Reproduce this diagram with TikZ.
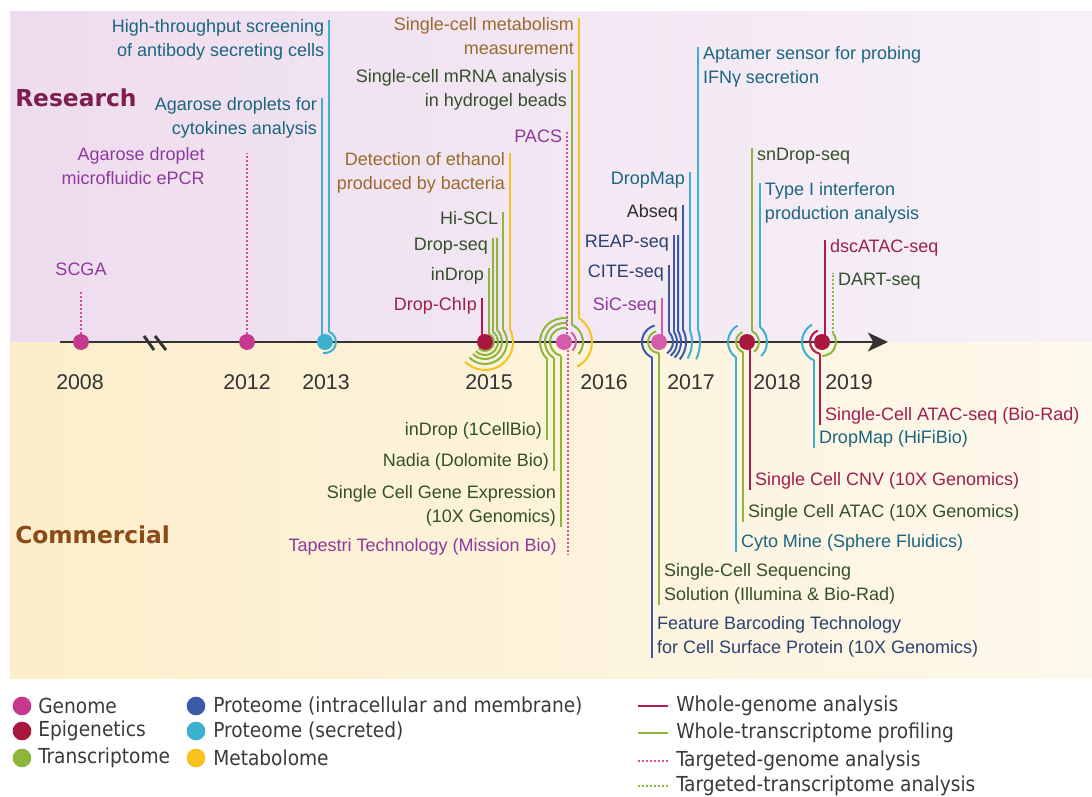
\documentclass[tikz,border=0pt]{standalone}
\usepackage{fontspec}
\setmainfont{Liberation Sans}
\newfontfamily\headfont{DejaVu Sans}
\newfontfamily\legfont{DejaVu Sans Condensed}
\usetikzlibrary{arrows.meta}
\tikzset{>=stealth}

\definecolor{respink}{HTML}{EEDCEE}
\definecolor{respale}{HTML}{F7F1F7}
\definecolor{comyel}{HTML}{FCEECA}
\definecolor{compale}{HTML}{FDF8EC}
\definecolor{axisgray}{HTML}{333333}
\definecolor{leggray}{HTML}{3A3A3A}
\definecolor{absgray}{HTML}{2E2E2E}
\definecolor{gnm}{HTML}{D94AA5}
\definecolor{gnmdot}{HTML}{C6388E}
\definecolor{gnmpale}{HTML}{D55CAA}
\definecolor{epi}{HTML}{B01B4C}
\definecolor{epidot}{HTML}{A9173F}
\definecolor{trs}{HTML}{8DB63C}
\definecolor{pint}{HTML}{3B5BA9}
\definecolor{psec}{HTML}{3CB1CD}
\definecolor{met}{HTML}{F6C21B}
\definecolor{tgnm}{HTML}{8E3A9C}
\definecolor{tepi}{HTML}{9E1F4F}
\definecolor{ttrs}{HTML}{34502A}
\definecolor{tpint}{HTML}{2B4170}
\definecolor{tpsec}{HTML}{1C6680}
\definecolor{tmet}{HTML}{9A6A2C}
\definecolor{research}{HTML}{7D1F4C}
\definecolor{commercial}{HTML}{8B4A17}

\newcommand\labfont{\fontsize{13.5}{18}\selectfont}
\newcommand\yearfont{\fontsize{16}{19}\selectfont}
\newcommand\headfnt{\headfont\bfseries\fontsize{17.5}{20}\selectfont}
\newcommand\legfnt{\legfont\fontsize{15.5}{18}\selectfont}

\tikzset{
  lbl/.style={inner sep=0pt,font=\labfont},
  rlab/.style={lbl,anchor=north east,xshift=-3pt,yshift=1pt,align=right},
  llab/.style={lbl,anchor=north west,xshift=3pt,yshift=1pt,align=left},
  rlabb/.style={lbl,anchor=south east,xshift=-3pt,align=right},
  llabb/.style={lbl,anchor=south west,xshift=3pt,align=left},
  ev/.style={line width=1.5pt},
  gnmline/.style={ev,draw=gnmpale},
  tgnmline/.style={ev,draw=gnm,dash pattern=on 1.5pt off 1.5pt},
  epiline/.style={ev,draw=epi},
  gline/.style={ev,draw=trs},
  tgline/.style={ev,draw=trs,dash pattern=on 1.5pt off 1.5pt},
  bline/.style={ev,draw=pint},
  cline/.style={ev,draw=psec},
  yline/.style={ev,draw=met},
  dot/.style={circle,inner sep=0pt,minimum size=12pt,fill=#1},
  year/.style={inner sep=0pt,font=\yearfont,text=axisgray},
  head/.style={inner sep=0pt,anchor=west,font=\headfnt},
  legdot/.style={circle,inner sep=0pt,minimum size=14pt,fill=#1},
  legtxt/.style={inner sep=0pt,anchor=west,font=\legfnt,text=leggray},
}

% line hooked round a dot: style, centre, radius, start, end, free end y, label style, name, text
\newcommand\evt[9]{%
  \draw[#1] (#2) ++(#4:#3) coordinate (hk) arc[start angle=#4,end angle=#5,radius=#3];
  \draw[#1] (hk) -- (hk |- 0,#6) node[#7] (#8) {#9};}
% straight line into a dot: style, centre, dx, free end y, label style, name, text
\newcommand\stem[7]{%
  \draw[#1] (#2) ++(#3,0) coordinate (hk) -- (hk |- 0,#4) node[#5] (#6) {#7};}

\begin{document}
\begin{tikzpicture}[x=0.75pt,y=0.75pt]
\useasboundingbox (0,-454) rectangle (1092,342);
\shade[left color=respink,right color=respale] (10,0) rectangle (1092,330);
\shade[left color=comyel,right color=compale] (10,-336) rectangle (1092,0);
\node[head,text=research] (research) at (15,244) {Research};
\node[head,text=commercial] (commercial) at (15,-193) {Commercial};

\foreach \x/\yr in {80/2008,247/2012,326/2013,489/2015,604/2016,691/2017,777/2018,849/2019}
  \node[year] (y\yr) at (\x,-40) {\yr};

% axis
\coordinate (ax0) at (60,0);
\coordinate (ax1) at (888,0);
\draw[line width=2.2pt,axisgray,-{Stealth[length=15pt,width=14pt,inset=4pt]}] (ax0) -- (ax1);
\draw[line width=2.2pt,axisgray] (144,6) -- (154,-8) (155,6) -- (166,-8);

\coordinate (c2008) at (81,0);
\coordinate (c2012) at (247,0);
\coordinate (c2013) at (325,0);
\coordinate (c2015) at (485,0);
\coordinate (c2016) at (564,0);
\coordinate (c2017) at (659,0);
\coordinate (c2018) at (747,0);
\coordinate (c2019) at (822,0);

% 2008 - 2013
\stem{tgnmline}{c2008}{0}{52}{lbl,anchor=south,yshift=10pt,text=tgnm}{scga}{SCGA}
\draw[tgnmline] (c2012) -- ++(0,189);
\node[lbl,align=right,anchor=north east,text=tgnm] (epcr) at (205,195) {Agarose droplet\\microfluidic ePCR};
\stem{cline}{c2013}{-3}{244}{rlab,text=tpsec}{cytok}{Agarose droplets for\\cytokines analysis}
\evt{cline}{c2013}{11}{68}{-100}{322}{rlab,text=tpsec}{antibody}{High-throughput screening\\of antibody secreting cells}

% 2015
\stem{epiline}{c2015}{-3}{44}{rlab,text=tepi}{dropchip}{Drop-ChIp}
\evt{gline}{c2015}{9}{64}{-135}{74}{rlab,text=ttrs}{indrop}{inDrop}
\evt{gline}{c2015}{13}{52}{-135}{104}{rlab,text=ttrs}{dropseq}{Drop-seq}
\draw[gline] (c2015) ++(45:17) coordinate (hk) arc[start angle=45,end angle=-135,radius=17] (hk) -- (hk |- 0,104);
\evt{gline}{c2015}{22}{35}{-135}{130}{rlab,text=ttrs}{hiscl}{Hi-SCL}
\evt{yline}{c2015}{28}{27}{-135}{189}{rlab,text=tmet}{ethanol}{Detection of ethanol\\produced by bacteria}

% 2016
\stem{tgnmline}{c2016}{3}{212}{rlab,text=tgnm}{pacs}{PACS}
\evt{gline}{c2016}{19}{65}{-40}{272}{rlab,text=ttrs}{hydrogel}{Single-cell mRNA analysis\\in hydrogel beads}
\evt{yline}{c2016}{28}{57.6}{-62}{324}{rlab,text=tmet}{metab}{Single-cell metabolism\\measurement}
\draw[gnmline] (c2016) ++(55:12) arc[start angle=55,end angle=-45,radius=12];
\evt{gline}{c2016}{24}{225}{80}{-98}{rlabb,text=ttrs}{onecell}{inDrop (1CellBio)}
\evt{gline}{c2016}{19}{238.2}{80}{-129}{rlabb,text=ttrs}{nadia}{Nadia (Dolomite Bio)}
\evt{gline}{c2016}{14}{257.6}{80}{-185}{rlabb,text=ttrs}{genexp}{Single Cell Gene Expression\\(10X Genomics)}
\draw[tgnmline] (c2016) ++(4,0) coordinate (hk) -- (hk |- 0,-213);
\node[lbl,anchor=south east,text=tgnm] (tapestri) at (557,-213) {Tapestri Technology (Mission Bio)};

% 2017
\stem{gnmline}{c2017}{3}{44}{rlab,text=tgnm}{sicseq}{SiC-seq}
\evt{bline}{c2017}{14}{44.4}{-55}{77}{rlab,text=tpint}{citeseq}{CITE-seq}
\evt{bline}{c2017}{18}{33.6}{-50}{107}{rlab,text=tpint}{reapseq}{REAP-seq}
\draw[bline] (c2017) ++(30.3:22) coordinate (hk) arc[start angle=30.3,end angle=-45,radius=22] (hk) -- (hk |- 0,107);
\evt{bline}{c2017}{27}{27.3}{-40}{137}{rlab,text=absgray}{abseq}{Abseq}
\evt{cline}{c2017}{33}{20}{-30}{170}{rlab,text=tpsec}{dropmap}{DropMap}
\evt{cline}{c2017}{41}{18}{-25}{295}{llab,text=tpsec}{aptamer}{Aptamer sensor for probing\\IFNγ secretion}
\evt{bline}{c2017}{17}{245.7}{105}{-316}{llabb,text=tpint}{featbar}{Feature Barcoding Technology\\for Cell Surface Protein (10X Genomics)}
\evt{gline}{c2017}{11}{270}{105}{-263}{llabb,text=ttrs}{illumina}{Single-Cell Sequencing\\Solution (Illumina \& Bio-Rad)}

% 2018
\evt{gline}{c2018}{12}{65.4}{-55}{194}{llab,text=ttrs}{sndrop}{snDrop-seq}
\evt{cline}{c2018}{20}{49.5}{-45}{159}{llab,text=tpsec}{typei}{Type I interferon\\production analysis}
\stem{epiline}{c2018}{3}{-148}{llabb,text=tepi}{cnv}{Single Cell CNV (10X Genomics)}
\evt{gline}{c2018}{11}{248.7}{115}{-180}{llabb,text=ttrs}{scatac}{Single Cell ATAC (10X Genomics)}
\evt{cline}{c2018}{19}{234.6}{120}{-210}{llabb,text=tpsec}{cytomine}{Cyto Mine (Sphere Fluidics)}

% 2019
\stem{epiline}{c2019}{3}{102}{llab,text=tepi}{dscatac}{dscATAC-seq}
\draw[gline] (c2019) ++(38:14) coordinate (hk) arc[start angle=38,end angle=-90,radius=14];
\draw[tgline] (hk) -- (hk |- 0,69) node[llab,text=ttrs] (dart) {DART-seq};
\evt{epiline}{c2019}{12}{260.4}{110}{-83}{llabb,text=tepi}{biorad}{Single-Cell ATAC-seq (Bio-Rad)}
\evt{cline}{c2019}{20}{246.4}{120}{-106}{llabb,text=tpsec}{hifibio}{DropMap (HiFiBio)}

% dots
\node[dot=gnmdot] (d2008) at (c2008) {};
\node[dot=gnmdot] (d2012) at (c2012) {};
\node[dot=psec] (d2013) at (c2013) {};
\node[dot=epidot] (d2015) at (c2015) {};
\node[dot=gnmpale] (d2016) at (c2016) {};
\node[dot=gnmpale] (d2017) at (c2017) {};
\node[dot=epidot] (d2018) at (c2018) {};
\node[dot=epidot] (d2019) at (c2019) {};

% legend
\foreach \y/\c/\t [count=\i] in {-364/gnmdot/Genome,-389/epidot/Epigenetics,-416/trs/Transcriptome}{
  \node[legdot=\c] (ka\i) at (22,\y) {};
  \node[legtxt] (ta\i) at (38,\y) {\t};}
\foreach \y/\c/\t [count=\i] in {-364/pint/{Proteome (intracellular and membrane)},-389/psec/{Proteome (secreted)},-416/met/Metabolome}{
  \node[legdot=\c] (kb\i) at (196,\y) {};
  \node[legtxt] (tb\i) at (213,\y) {\t};}
\foreach \y/\s/\t [count=\i] in {-364/epiline/{Whole-genome analysis},-391/gline/{Whole-transcriptome profiling},-419/tgnmline/{Targeted-genome analysis},-444/tgline/{Targeted-transcriptome analysis}}{
  \coordinate (la\i) at (638,\y);
  \coordinate (lb\i) at (668,\y);
  \draw[\s,line width=2pt] (la\i) -- (lb\i);
  \node[legtxt] (tc\i) at (676,\y) {\t};}
\end{tikzpicture}
\end{document}
